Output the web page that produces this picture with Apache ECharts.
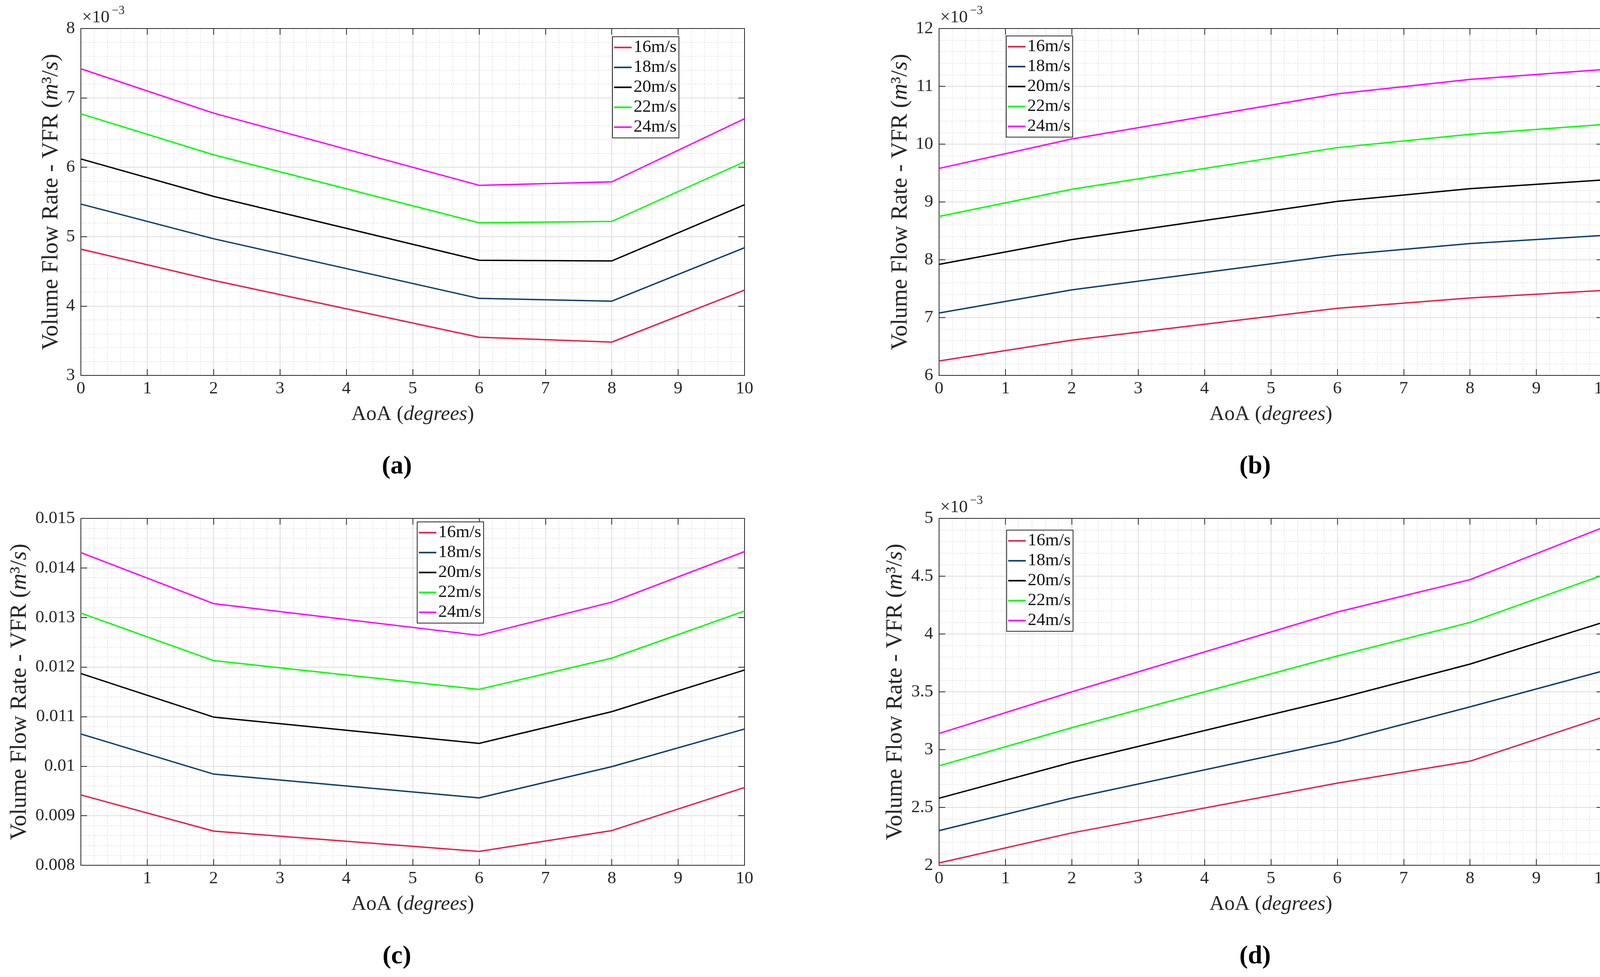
<!DOCTYPE html>
<html>
<head>
<meta charset="utf-8">
<script src="https://cdn.jsdelivr.net/npm/echarts@6/dist/echarts.min.js"></script>
<style>
  html, body { margin: 0; padding: 0; background: #fff; }
  #main { width: 4148px; height: 2501px; }
</style>
</head>
<body>
<div id="main"></div>
<script>
// x positions (AoA in degrees) and series names
var aoa = [0, 2, 6, 8, 10];
var speeds = ['16m/s', '18m/s', '20m/s', '22m/s', '24m/s'];
var xTicks = [0, 1, 2, 3, 4, 5, 6, 7, 8, 9, 10];

// (a) VFR x10^-3 m^3/s
var a16 = [4.82, 4.37, 3.55, 3.48, 4.23];
var a18 = [5.47, 4.97, 4.11, 4.07, 4.84];
var a20 = [6.12, 5.58, 4.66, 4.65, 5.46];
var a22 = [6.77, 6.18, 5.20, 5.22, 6.08];
var a24 = [7.42, 6.78, 5.74, 5.79, 6.70];
var aYTicks = [3, 4, 5, 6, 7, 8];

// (b) VFR x10^-3 m^3/s
var b16 = [6.25, 6.61, 7.16, 7.34, 7.47];
var b18 = [7.08, 7.48, 8.08, 8.28, 8.42];
var b20 = [7.92, 8.35, 9.01, 9.23, 9.38];
var b22 = [8.75, 9.22, 9.94, 10.17, 10.34];
var b24 = [9.58, 10.09, 10.87, 11.12, 11.29];
var bYTicks = [6, 7, 8, 9, 10, 11, 12];

// (c) VFR m^3/s
var c16 = [0.00942, 0.00869, 0.00828, 0.00870, 0.00957];
var c18 = [0.01065, 0.00984, 0.00936, 0.00999, 0.01075];
var c20 = [0.01187, 0.01099, 0.01046, 0.01110, 0.01194];
var c22 = [0.01309, 0.01213, 0.01155, 0.01218, 0.01313];
var c24 = [0.01431, 0.01328, 0.01264, 0.01331, 0.01433];
var cYTicks = [0.008, 0.009, 0.010, 0.011, 0.012, 0.013, 0.014, 0.015];

// (d) VFR x10^-3 m^3/s
var d16 = [2.02, 2.28, 2.71, 2.90, 3.28];
var d18 = [2.30, 2.58, 3.07, 3.37, 3.68];
var d20 = [2.58, 2.89, 3.44, 3.74, 4.10];
var d22 = [2.86, 3.19, 3.81, 4.10, 4.51];
var d24 = [3.14, 3.50, 4.19, 4.47, 4.92];
var dYTicks = [2, 2.5, 3, 3.5, 4, 4.5, 5];

var lineColors = ['#E31E4A', '#0B3C6E', '#000000', '#00FF00', '#FF00FF'];
var FONT = '"Liberation Serif", "DejaVu Serif", serif';
var AXIS = '#262626';

var panels = [
    {series: [a16, a18, a20, a22, a24], yTicks: aYTicks, grid: {left: 207, top: 73}, nameGap: 46,
        legend: {left: 1568, top: 94}, exp: true, label: '(a)', hideZero: false},
    {series: [b16, b18, b20, b22, b24], yTicks: bYTicks, grid: {left: 2404, top: 73}, nameGap: 69,
        legend: {left: 2576, top: 92}, exp: true, label: '(b)', hideZero: false},
    {series: [c16, c18, c20, c22, c24], yTicks: cYTicks, grid: {left: 207, top: 1327}, nameGap: 127,
        legend: {left: 1068, top: 1336}, exp: false, label: '(c)', hideZero: true},
    {series: [d16, d18, d20, d22, d24], yTicks: dYTicks, grid: {left: 2404, top: 1327}, nameGap: 82,
        legend: {left: 2577, top: 1357}, exp: true, label: '(d)', hideZero: false}
];

var PW = 1699, PH = 888;

var grids = [], xAxes = [], yAxes = [], series = [], legends = [], graphics = [];

var minorLine = {show: true, lineStyle: {color: '#cccccc', width: 1.5, type: [2, 4]}};
var majorLine = {show: true, lineStyle: {color: '#dddddd', width: 2}};

panels.forEach(function(p, gi){
    grids.push({left: p.grid.left, top: p.grid.top, width: PW, height: PH, containLabel: false});

    var yMin = p.yTicks[0];
    var yMax = p.yTicks[p.yTicks.length - 1];
    var yInt = +(p.yTicks[1] - p.yTicks[0]).toFixed(6);

    //主x轴
    xAxes.push({
        type: 'value', gridIndex: gi, position: 'bottom',
        min: xTicks[0], max: xTicks[xTicks.length - 1], interval: 1,
        name: 'AoA ({i|degrees})', nameLocation: 'middle', nameGap: 74,
        nameTextStyle: {fontFamily: FONT, fontSize: 53, color: AXIS,
            rich: {i: {fontFamily: FONT, fontSize: 53, fontStyle: 'italic', color: AXIS}}},
        axisLine: {show: true, onZero: false, lineStyle: {color: AXIS, width: 2}},
        axisTick: {show: true, inside: true, length: 16, lineStyle: {color: AXIS, width: 2}},
        axisLabel: {fontFamily: FONT, fontSize: 45, color: AXIS, margin: 12,
            formatter: function(v){ return (p.hideZero && v === 0) ? '' : String(v); }},
        splitLine: majorLine,
        minorTick: {show: false, splitNumber: 5},
        minorSplitLine: minorLine
    });
    //上边框
    xAxes.push({
        type: 'value', gridIndex: gi, position: 'top',
        min: xTicks[0], max: xTicks[xTicks.length - 1], interval: 1,
        axisLine: {show: true, onZero: false, lineStyle: {color: AXIS, width: 2}},
        axisTick: {show: true, inside: true, length: 16, lineStyle: {color: AXIS, width: 2}},
        axisLabel: {show: false}, splitLine: {show: false}
    });

    yAxes.push({
        type: 'value', gridIndex: gi, position: 'left',
        min: yMin, max: yMax, interval: yInt,
        name: 'Volume Flow Rate - VFR ({i|m}³/{i|s})', nameLocation: 'middle', nameGap: p.nameGap,
        nameTextStyle: {fontFamily: FONT, fontSize: 59, color: AXIS,
            rich: {i: {fontFamily: FONT, fontSize: 59, fontStyle: 'italic', color: AXIS}}},
        axisLine: {show: true, onZero: false, lineStyle: {color: AXIS, width: 2}},
        axisTick: {show: true, inside: true, length: 16, lineStyle: {color: AXIS, width: 2}},
        axisLabel: {fontFamily: FONT, fontSize: 45, color: AXIS, margin: 15,
            formatter: function(v){ return String(+v.toFixed(4)); }},
        splitLine: majorLine,
        minorTick: {show: false, splitNumber: 5},
        minorSplitLine: minorLine
    });
    //右边框
    yAxes.push({
        type: 'value', gridIndex: gi, position: 'right',
        min: yMin, max: yMax, interval: yInt,
        axisLine: {show: true, onZero: false, lineStyle: {color: AXIS, width: 2}},
        axisTick: {show: true, inside: true, length: 16, lineStyle: {color: AXIS, width: 2}},
        axisLabel: {show: false}, splitLine: {show: false}
    });

    p.series.forEach(function(vals, si){
        series.push({
            name: speeds[si], type: 'line',
            xAxisIndex: gi * 2, yAxisIndex: gi * 2,
            data: aoa.map(function(x, k){ return [x, vals[k]]; }),
            symbol: 'none', smooth: false,
            lineStyle: {color: lineColors[si], width: 3.5},
            itemStyle: {color: lineColors[si]},
            z: 3
        });
    });

    legends.push({
        left: p.legend.left, top: p.legend.top, orient: 'vertical',
        data: speeds, icon: 'rect', itemWidth: 45, itemHeight: 4, itemGap: 6,
        padding: [5, 6, 5, 4],
        backgroundColor: '#ffffff', borderColor: AXIS, borderWidth: 2,
        textStyle: {fontFamily: FONT, fontSize: 45, lineHeight: 44, color: '#111'},
        selectedMode: false
    });

    if(p.exp){
        graphics.push({type: 'text', x: p.grid.left + 3, y: p.grid.top - 28,
            style: {text: '×10', fontFamily: FONT, fontSize: 45, fill: AXIS, align: 'left', verticalAlign: 'middle'}});
        graphics.push({type: 'text', x: p.grid.left + 79, y: p.grid.top - 45,
            style: {text: '−3', fontFamily: FONT, fontSize: 31, fill: AXIS, align: 'left', verticalAlign: 'middle'}});
    }
    graphics.push({type: 'text', x: p.grid.left + 809, y: p.grid.top + 1122,
        style: {text: p.label, fontFamily: FONT, fontSize: 66, fontWeight: 'bold', fill: '#000', align: 'center', verticalAlign: 'middle'}});
});

var myChart = echarts.init(document.getElementById('main'), null, {renderer: 'canvas'});
myChart.setOption({
    animation: false,
    backgroundColor: '#ffffff',
    grid: grids,
    xAxis: xAxes,
    yAxis: yAxes,
    legend: legends,
    series: series,
    graphic: graphics
});
</script>
</body>
</html>
